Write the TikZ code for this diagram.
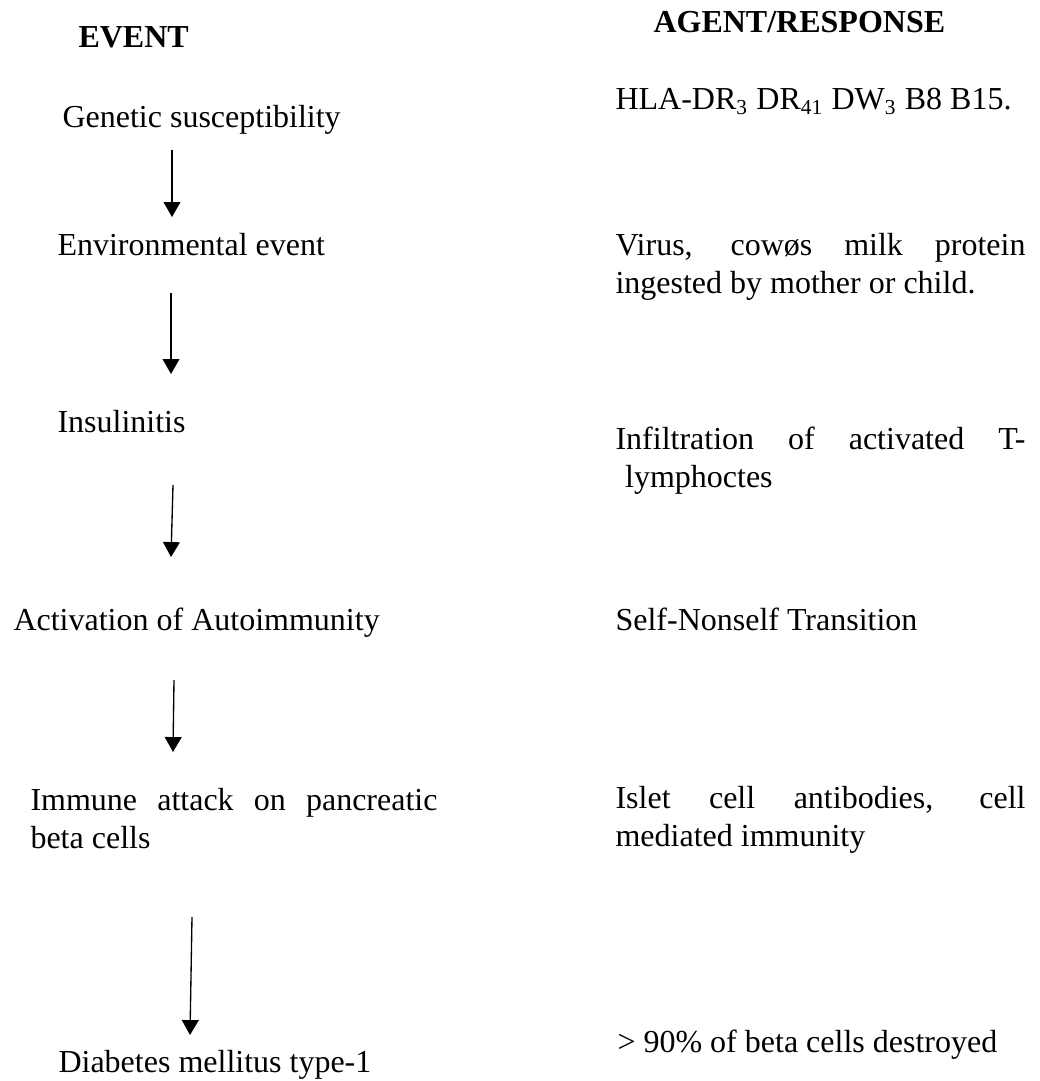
\documentclass[tikz,border=0pt]{standalone}
\usepackage{fontspec}
\setmainfont{Liberation Serif}
\usetikzlibrary{arrows.meta}
\tikzset{
  txt/.style={font=\fontsize{12}{14.25}\selectfont, inner sep=0pt, anchor=base west},
  head/.style={txt, font=\fontsize{12}{14.25}\selectfont\bfseries},
  flowarrow/.style={line width=0.5pt, -{Triangle[width=6.3pt,length=5.6pt]}}
}
\begin{document}
\begin{tikzpicture}[x=0.375pt, y=-0.375pt]
\useasboundingbox (0,0) rectangle (1039,1081);
% headers
\node[head] (hev) at (78,48) {EVENT};
\node[head] (hag) at (653,33) {AGENT/RESPONSE};
% left column
\node[txt] (e1) at (62,128) {Genetic susceptibility};
\node[txt] (e2) at (57,255) {Environmental event};
\node[txt] (e3) at (57,432) {Insulinitis};
\node[txt] (e4) at (13,630) {Activation of Autoimmunity};
\node[txt] (e5) at (30,810) {\begin{tabular}[t]{@{}l@{}}\makebox[152.6pt][s]{Immune attack on pancreatic}\\ beta cells\end{tabular}};
\node[txt] (e6) at (58,1072) {Diabetes mellitus type-1};
% right column
\node[txt] (r1) at (615,110) {HLA-DR\textsubscript{3} DR\textsubscript{41} DW\textsubscript{3} B8 B15.};
\node[txt] (r2) at (615,255) {\begin{tabular}[t]{@{}l@{}}\makebox[153.75pt][s]{Virus, cowøs milk protein}\\ ingested by mother or child.\end{tabular}};
\node[txt] (r3) at (615,449) {\begin{tabular}[t]{@{}l@{}}\makebox[153.75pt][s]{Infiltration of activated T-}\\ \hspace{3.6pt}lymphoctes\end{tabular}};
\node[txt] (r4) at (615,630) {Self-Nonself Transition};
\node[txt] (r5) at (615,808) {\begin{tabular}[t]{@{}l@{}}\makebox[153.75pt][s]{Islet cell antibodies, cell}\\ mediated immunity\end{tabular}};
\node[txt] (r6) at (617,1052) {> 90\% of beta cells destroyed};
% arrow end points
\coordinate (a1s) at (172,150);  \coordinate (a1e) at (172,217);
\coordinate (a2s) at (171,293);  \coordinate (a2e) at (171,374);
\coordinate (a3s) at (173,485);  \coordinate (a3e) at (171,557);
\coordinate (a4s) at (174,680);  \coordinate (a4e) at (173,752);
\coordinate (a5s) at (192,917);  \coordinate (a5e) at (190,1035);
\draw[flowarrow] (a1s) -- (a1e);
\draw[flowarrow] (a2s) -- (a2e);
\draw[flowarrow] (a3s) -- (a3e);
\draw[flowarrow] (a4s) -- (a4e);
\draw[flowarrow] (a5s) -- (a5e);
\end{tikzpicture}
\end{document}
